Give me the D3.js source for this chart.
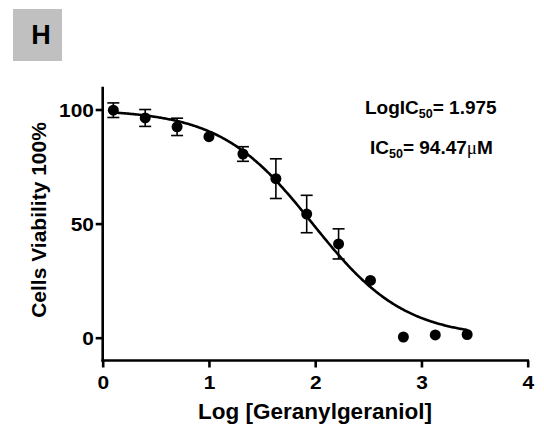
<!DOCTYPE html>
<html>
<head>
<meta charset="utf-8">
<script src="https://cdn.jsdelivr.net/npm/d3@7"></script>
<style>
  html, body { margin: 0; padding: 0; background: #fff; }
  svg { display: block; }
  text { font-family: "Liberation Sans", Arial, sans-serif; font-weight: bold; fill: #000; }
</style>
</head>
<body>
<svg id="chart" width="544" height="427"></svg>
<script>
// ---- data ----
const logConc   = [0.10, 0.40, 0.70, 1.00, 1.32, 1.63, 1.92, 2.22, 2.52, 2.83, 3.13, 3.43];
const viability = [99.7, 96.3, 92.4, 88.1, 80.5, 69.7, 54.2, 41.1, 25.1, 0.3, 1.2, 1.4];
const sdErr     = [3.2, 3.7, 3.8, 0, 3.2, 8.7, 8.2, 6.6, 0, 0, 0, 0];
const xTicks = [0, 1, 2, 3, 4];
const yTicks = [0, 50, 100];
// fitted 4-parameter logistic
const fitTop = 100, fitBottom = 0, fitLogIC50 = 1.975, fitHill = -1.0;
const fitRange = [0.10, 3.43];
const panelLabel = "H";
const xTitle = "Log [Geranylgeraniol]";
const yTitle = "Cells Viability 100%";

const svg = d3.select("#chart");

// panel label
svg.append("rect").attr("x", 13).attr("y", 9).attr("width", 49).attr("height", 52).attr("fill", "#c0c0c0");
svg.append("text").attr("x", 41).attr("y", 44).attr("text-anchor", "middle")
  .style("font-size", "27px").text(panelLabel);

const x = d3.scaleLinear().domain([0, 4]).range([102.7, 527.7]);
const y = d3.scaleLinear().domain([-10, 110]).range([360.5, 86.7]);

// axes
const xAxis = svg.append("g").attr("transform", `translate(0,${y(-10)})`)
  .call(d3.axisBottom(x).tickValues(xTicks).tickSize(7).tickPadding(3).tickFormat(d3.format("d")));
const yAxis = svg.append("g").attr("transform", `translate(${x(0)},0)`)
  .call(d3.axisLeft(y).tickValues(yTicks).tickSize(7).tickPadding(1).tickFormat(d3.format("d")));
[xAxis, yAxis].forEach(g => {
  g.select(".domain").attr("stroke", "#000").attr("stroke-width", 2.6);
  g.selectAll(".tick line").attr("stroke", "#000").attr("stroke-width", 2.6);
  g.selectAll(".tick text").style("font-size", "19px").attr("fill", "#000")
    .style("font-family", "'Liberation Sans', Arial, sans-serif").style("font-weight", "bold")
    .attr("transform", "scale(1.1,1)");
});
// custom domain lines (no end ticks)
xAxis.select(".domain").attr("d", `M${x(0) - 1.3},0H${x(4) + 1.3}`);
yAxis.select(".domain").attr("d", `M0,${y(110)}V${y(-10) + 1.3}`);
xAxis.selectAll(".tick text").attr("dy", "0.95em");
yAxis.selectAll(".tick text").attr("dy", "0.36em");

// fitted curve
const curveX = d3.range(fitRange[0], fitRange[1] + 1e-9, 0.01);
const fit = v => fitBottom + (fitTop - fitBottom) / (1 + Math.pow(10, (fitLogIC50 - v) * fitHill));
svg.append("path")
  .datum(curveX)
  .attr("fill", "none").attr("stroke", "#000").attr("stroke-width", 2.6)
  .attr("d", d3.line().x(d => x(d)).y(d => y(fit(d))));

// error bars
const pts = logConc.map((v, i) => ({ x: v, y: viability[i], e: sdErr[i] }));
const eb = svg.append("g").attr("stroke", "#000").attr("stroke-width", 1.6).attr("fill", "none");
pts.filter(d => d.e > 0).forEach(d => {
  const cx = x(d.x);
  eb.append("line").attr("x1", cx).attr("x2", cx).attr("y1", y(d.y + d.e)).attr("y2", y(d.y - d.e));
  eb.append("line").attr("x1", cx - 6).attr("x2", cx + 6).attr("y1", y(d.y + d.e)).attr("y2", y(d.y + d.e));
  eb.append("line").attr("x1", cx - 6).attr("x2", cx + 6).attr("y1", y(d.y - d.e)).attr("y2", y(d.y - d.e));
});

// points
svg.append("g").selectAll("circle").data(pts).join("circle")
  .attr("cx", d => x(d.x)).attr("cy", d => y(d.y)).attr("r", 5.5).attr("fill", "#000");

// axis titles
svg.append("text").attr("x", 315).attr("y", 419).attr("text-anchor", "middle")
  .style("font-size", "22.5px").text(xTitle);
svg.append("text").attr("transform", `translate(46,220) rotate(-90)`).attr("text-anchor", "middle")
  .style("font-size", "21px").text(yTitle);

// annotations
const t1 = svg.append("text").attr("x", 365).attr("y", 114).style("font-size", "19px");
t1.append("tspan").text("LogIC");
t1.append("tspan").attr("dy", 4).style("font-size", "12.5px").text("50");
t1.append("tspan").attr("dy", -4).text("= " + fitLogIC50.toFixed(3));

const t2 = svg.append("text").attr("x", 370).attr("y", 154).style("font-size", "19px");
t2.append("tspan").text("IC");
t2.append("tspan").attr("dy", 4).style("font-size", "12.5px").text("50");
t2.append("tspan").attr("dy", -4).text("= 94.47");
t2.append("tspan").style("font-weight", "normal").style("font-family", "'Liberation Serif', serif").text("\u03bc");
t2.append("tspan").text("M");
</script>
</body>
</html>
